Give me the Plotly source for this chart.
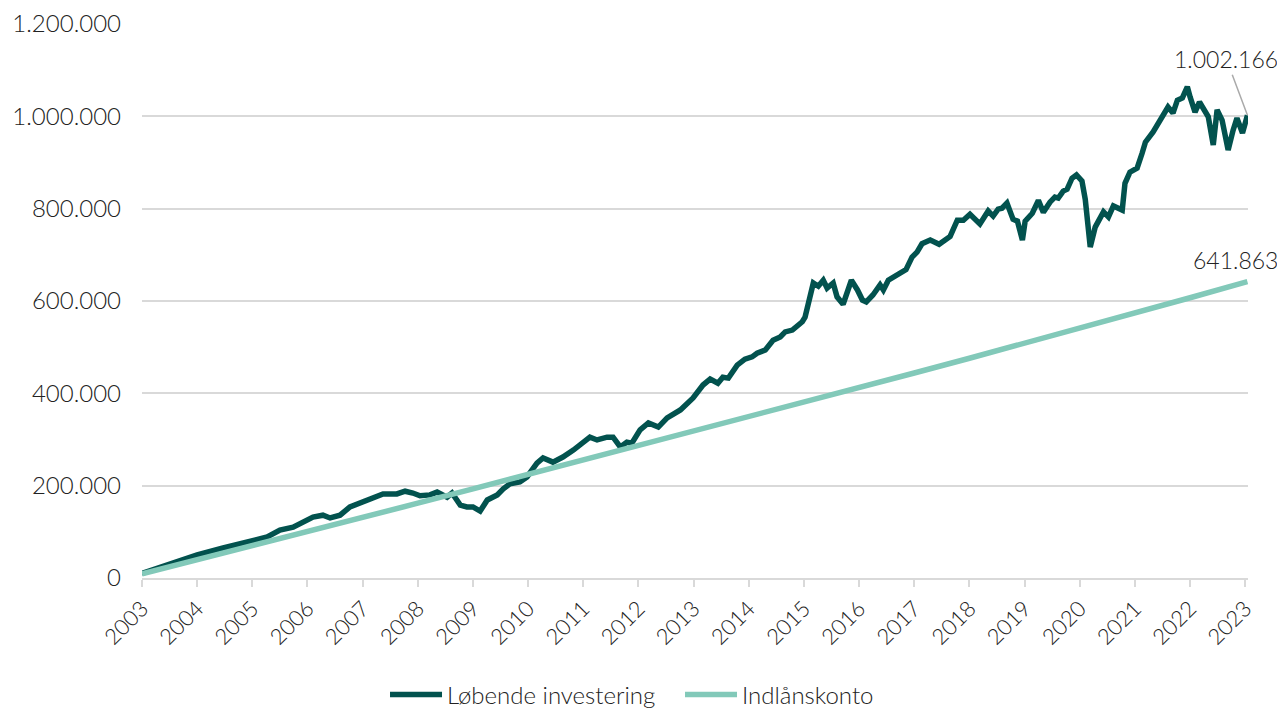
import plotly.graph_objects as go

# Løbende investering (dark line) – year (decimal) and value
inv_years = [2003.00, 2003.51, 2004.00, 2004.47, 2004.90, 2005.27, 2005.50, 2005.74, 2006.10, 2006.28,
             2006.41, 2006.59, 2006.77, 2007.01, 2007.19, 2007.37, 2007.62, 2007.77, 2007.91, 2008.04,
             2008.22, 2008.35, 2008.53, 2008.62, 2008.77, 2008.89, 2009.00, 2009.13, 2009.26, 2009.44,
             2009.55, 2009.67, 2009.85, 2009.98, 2010.16, 2010.27, 2010.45, 2010.63, 2010.82, 2010.98,
             2011.12, 2011.25, 2011.43, 2011.54, 2011.67, 2011.79, 2011.88, 2012.03, 2012.18, 2012.36,
             2012.52, 2012.76, 2012.99, 2013.17, 2013.30, 2013.44, 2013.53, 2013.63, 2013.79, 2013.93,
             2014.06, 2014.15, 2014.30, 2014.44, 2014.57, 2014.66, 2014.79, 2014.97, 2015.02, 2015.17,
             2015.26, 2015.35, 2015.42, 2015.53, 2015.60, 2015.71, 2015.79, 2015.86, 2015.97, 2016.06,
             2016.13, 2016.25, 2016.38, 2016.44, 2016.53, 2016.69, 2016.85, 2016.96, 2017.05, 2017.14,
             2017.29, 2017.45, 2017.65, 2017.78, 2017.89, 2018.01, 2018.19, 2018.34, 2018.43, 2018.52,
             2018.59, 2018.68, 2018.79, 2018.87, 2018.96, 2019.01, 2019.14, 2019.25, 2019.34, 2019.46,
             2019.55, 2019.61, 2019.70, 2019.77, 2019.86, 2019.94, 2020.04, 2020.10, 2020.19, 2020.28,
             2020.43, 2020.52, 2020.61, 2020.77, 2020.82, 2020.91, 2021.04, 2021.13, 2021.19, 2021.33,
             2021.46, 2021.60, 2021.69, 2021.77, 2021.86, 2021.95, 2022.00, 2022.09, 2022.17, 2022.27,
             2022.33, 2022.42, 2022.49, 2022.58, 2022.69, 2022.78, 2022.85, 2022.95, 2023.04]
inv_values = [10000, 32000, 50000, 65000, 78000, 89000, 104000, 110000, 132000, 136000,
              130000, 136000, 154000, 165000, 173000, 182000, 182000, 188000, 184000, 178000,
              180000, 186000, 175000, 184000, 158000, 154000, 154000, 145000, 169000, 180000,
              193000, 204000, 208000, 219000, 249000, 260000, 251000, 262000, 277000, 294000,
              305000, 299000, 305000, 305000, 284000, 294000, 292000, 321000, 336000, 327000,
              347000, 364000, 390000, 418000, 431000, 422000, 435000, 433000, 461000, 474000,
              479000, 487000, 494000, 515000, 522000, 533000, 537000, 555000, 565000, 639000,
              632000, 645000, 628000, 639000, 609000, 593000, 617000, 645000, 624000, 602000,
              598000, 613000, 635000, 624000, 645000, 656000, 668000, 695000, 706000, 724000,
              732000, 723000, 740000, 775000, 775000, 788000, 767000, 795000, 784000, 799000,
              801000, 812000, 777000, 773000, 732000, 773000, 790000, 818000, 792000, 814000,
              825000, 823000, 838000, 842000, 866000, 873000, 860000, 820000, 717000, 760000,
              793000, 782000, 806000, 797000, 855000, 879000, 888000, 920000, 944000, 966000,
              992000, 1020000, 1007000, 1035000, 1040000, 1064000, 1042000, 1009000, 1031000, 1014000,
              999000, 938000, 1014000, 992000, 927000, 970000, 996000, 964000, 1002166]

# Indlånskonto (light line)
dep_years = [2003.00, 2004.00, 2005.00, 2006.00, 2007.00, 2008.00, 2009.00, 2010.00, 2011.00, 2012.00,
             2013.00, 2014.00, 2015.00, 2016.00, 2017.00, 2018.00, 2019.00, 2020.00, 2021.00, 2022.00,
             2023.04]
dep_values = [9000, 39000, 70000, 100000, 131000, 162000, 193000, 224000, 255000, 286000,
              317000, 348000, 380000, 412000, 444000, 476000, 508000, 541000, 574000, 607000,
              641863]

year_ticks = list(range(2003, 2024))
y_ticks = [0, 200000, 400000, 600000, 800000, 1000000, 1200000]

series_names = ["Løbende investering", "Indlånskonto"]
end_labels = ["1.002.166", "641.863"]

DARK = "#02524e"
LIGHT = "#82c9b9"
GRID = "#d9d9d9"
TEXT = "#222222"
FONT = "Lato"
W = 300

fig = go.Figure()
fig.add_trace(go.Scatter(x=inv_years, y=inv_values, mode="lines", name=series_names[0],
                         line=dict(color=DARK, width=5.5)))
fig.add_trace(go.Scatter(x=dep_years, y=dep_values, mode="lines", name=series_names[1],
                         line=dict(color=LIGHT, width=5.5)))

fig.add_annotation(x=inv_years[-1], y=inv_values[-1], text=end_labels[0], showarrow=True,
                   arrowhead=0, arrowwidth=1.5, arrowcolor="#aaaaaa", ax=-21, ay=-56,
                   font=dict(family=FONT, size=23, color=TEXT, weight=W))
fig.add_annotation(x=dep_years[-1], y=dep_values[-1], text=end_labels[1], showarrow=False,
                   xanchor="center", yanchor="bottom", xshift=-12, yshift=6,
                   font=dict(family=FONT, size=23, color=TEXT, weight=W))

fig.update_layout(
    width=1277, height=708,
    margin=dict(l=142, r=29, t=24, b=130),
    paper_bgcolor="white", plot_bgcolor="white",
    separators=",.",
    font=dict(family=FONT, size=23, color=TEXT, weight=W),
    showlegend=True,
    legend=dict(orientation="h", xref="container", x=0.3015, xanchor="left",
                yref="container", y=0.0184, yanchor="middle",
                font=dict(family=FONT, size=24, color=TEXT, weight=W),
                itemwidth=52, entrywidth=228, entrywidthmode="pixels", tracegroupgap=0),
    xaxis=dict(range=[2003, 2023.05], tickvals=year_ticks, ticktext=[str(y) for y in year_ticks],
               tickangle=-45, showgrid=False, zeroline=False, automargin=False,
               showline=True, linecolor=GRID, linewidth=2,
               ticks="outside", ticklen=7, tickwidth=2, tickcolor=GRID,
               tickfont=dict(family=FONT, size=22, color=TEXT, weight=W)),
    yaxis=dict(range=[0, 1200000], tickvals=y_ticks, tickformat=",d", automargin=False,
               showgrid=True, gridcolor=GRID, gridwidth=1.5, zeroline=False,
               ticks="", ticklabelstandoff=20,
               tickfont=dict(family=FONT, size=24, color=TEXT, weight=W)),
)

fig.write_html("out.html", config={"displayModeBar": False},
               post_script="document.body.style.margin='0px';document.documentElement.style.overflow='hidden';")
